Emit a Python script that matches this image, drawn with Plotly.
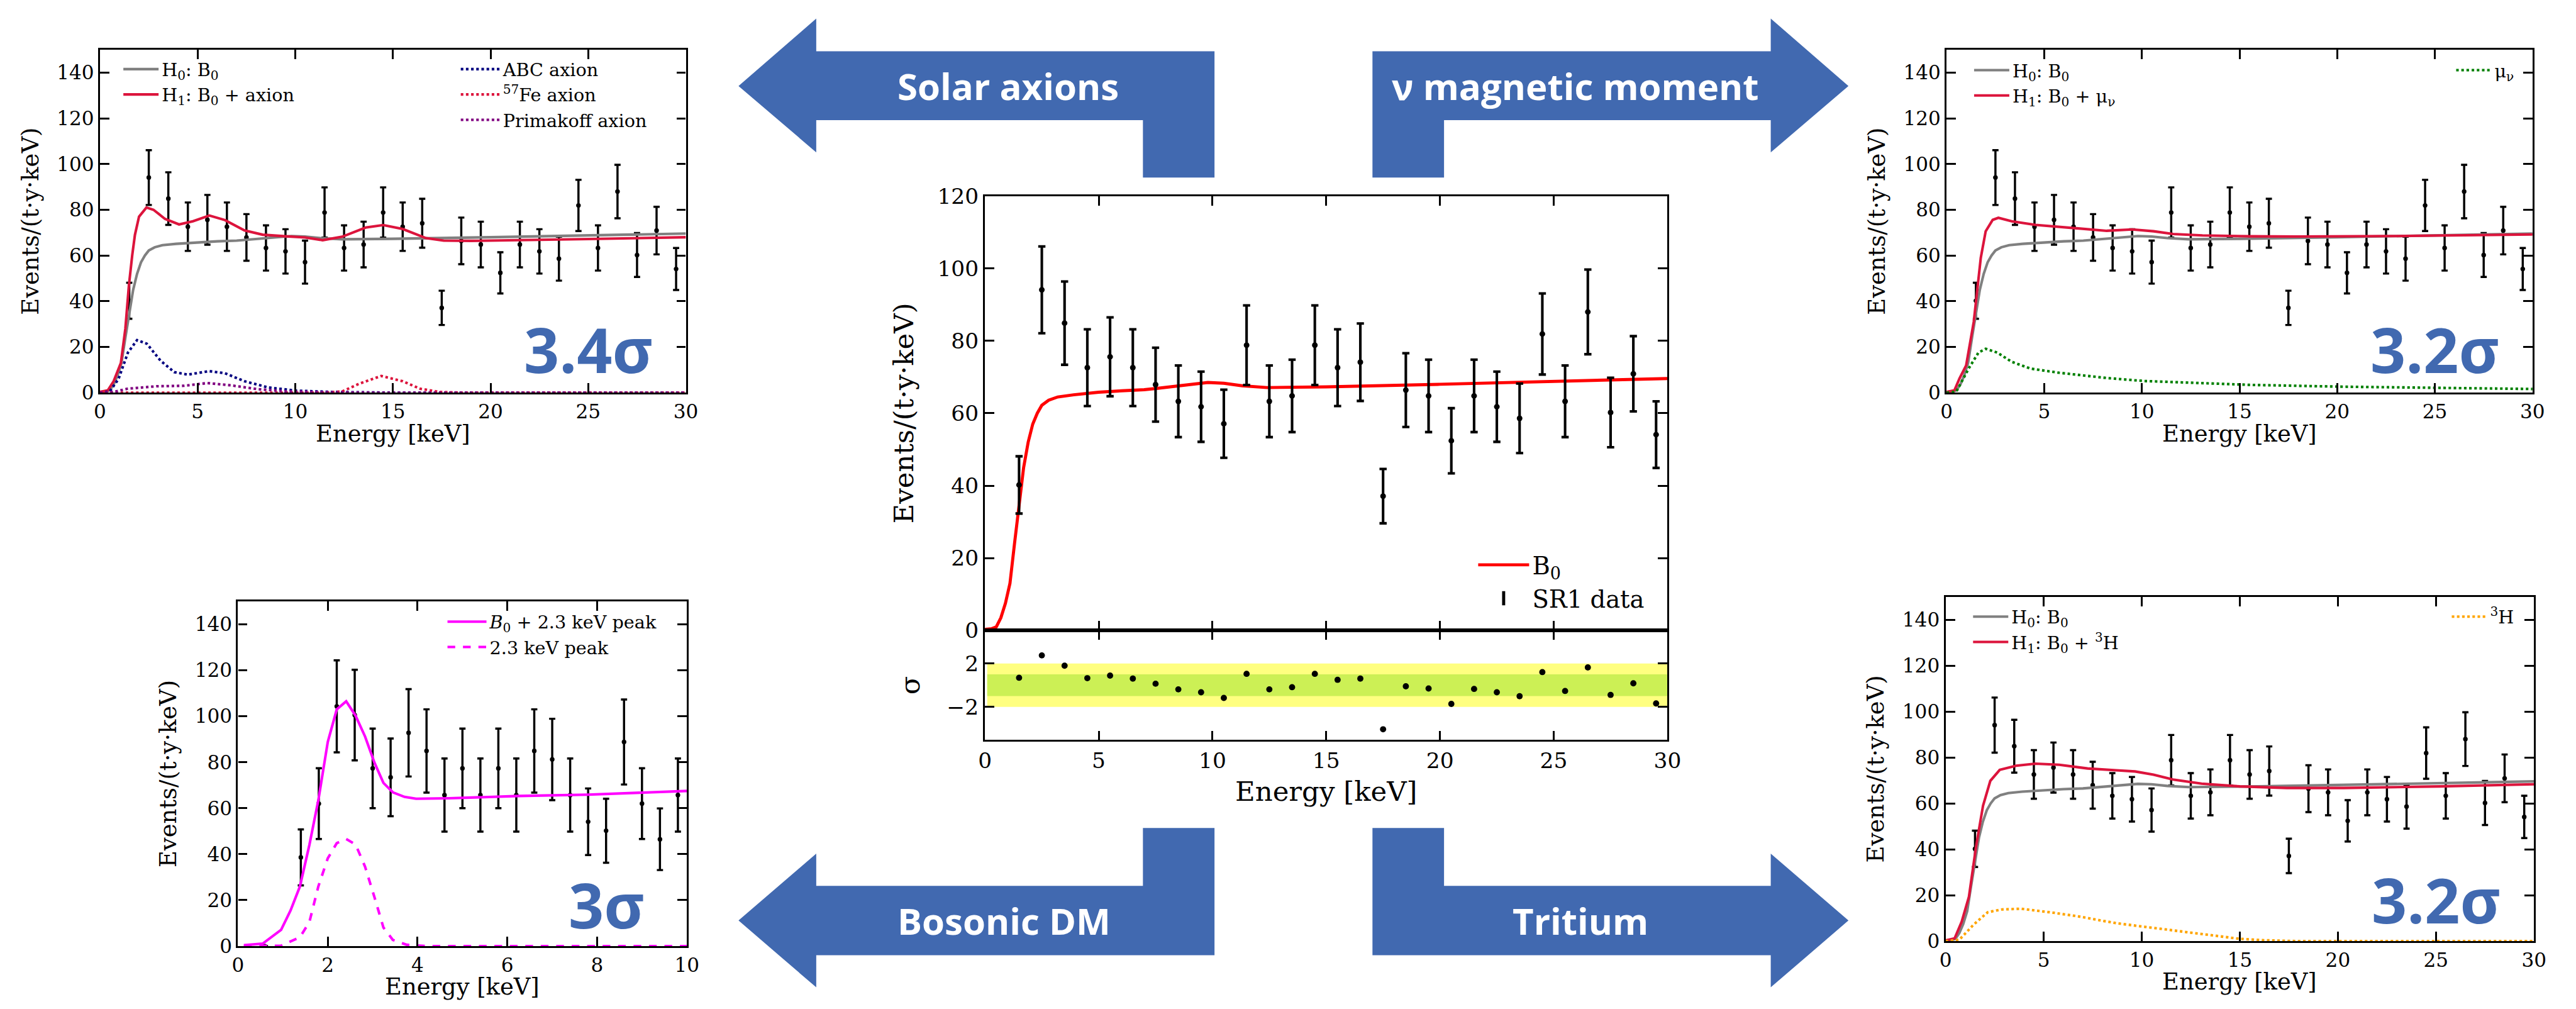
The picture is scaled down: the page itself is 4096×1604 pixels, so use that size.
import plotly.graph_objects as go

# ---------------- data ----------------
ENERGY = [1.5, 2.5, 3.5, 4.5, 5.5, 6.5, 7.5, 8.5, 9.5, 10.5, 11.5, 12.5, 13.5, 14.5, 15.5,
          16.5, 17.5, 18.5, 19.5, 20.5, 21.5, 22.5, 23.5, 24.5, 25.5, 26.5, 27.5, 28.5, 29.5]
RATE = [40.2, 94.1, 84.9, 72.6, 75.6, 72.6, 67.9, 63.3, 61.8, 57.1, 78.8, 63.3, 64.8, 78.8, 72.6,
        74.1, 37.1, 66.4, 64.8, 52.4, 64.8, 61.8, 58.6, 81.9, 63.3, 88.0, 60.2, 70.9, 54.1]
RATE_ERR = [7.9, 12.0, 11.5, 10.6, 10.9, 10.6, 10.2, 9.9, 9.7, 9.4, 11.0, 9.9, 10.0, 11.0, 10.6,
            10.7, 7.5, 10.2, 10.0, 9.0, 10.0, 9.7, 9.6, 11.2, 9.9, 11.7, 9.6, 10.4, 9.2]
RESID = [0.69, 2.75, 1.8, 0.65, 0.89, 0.61, 0.14, -0.38, -0.65, -1.17, 1.05, -0.38, -0.18, 1.05, 0.5,
         0.61, -4.06, -0.1, -0.3, -1.72, -0.34, -0.65, -1.01, 1.21, -0.53, 1.64, -0.89, 0.18, -1.68]

B0_X = [0, 0.3, 0.5, 0.7, 0.9, 1.1, 1.3, 1.5, 1.7, 1.9, 2.1, 2.3, 2.5, 2.8, 3.2, 3.9, 5.0, 6.0,
        7.0, 7.6, 8.5, 9.2, 9.8, 10.5, 11.3, 12.4, 15, 20, 25, 30]
B0_Y = [0.3, 0.5, 1.0, 3.5, 7.5, 13, 24, 35, 45, 52, 57, 60, 62.2, 63.6, 64.5, 65.1, 65.8, 66.2,
        66.5, 66.9, 67.6, 68.2, 68.5, 68.3, 67.6, 67.1, 67.3, 68.0, 68.8, 69.6]

AX_H1_X = [0, 0.4, 0.7, 1.07, 1.3, 1.48, 1.65, 1.79, 2.0, 2.38, 2.74, 3.33, 4.05, 4.76, 5.6, 6.4,
           7.4, 8.33, 9.5, 10.5, 11.4, 12.4, 13.6, 14.5, 15.5, 16.7, 17.6, 19, 25, 30]
AX_H1_Y = [0.3, 1.0, 5, 13, 28, 46.8, 60, 69, 77, 81, 80, 76, 73.6, 75, 77.5, 75.5,
           71, 69.1, 68.4, 67.9, 66.7, 68.2, 72.2, 73.3, 71.6, 67.6, 66.5, 66.4, 67.2, 68]
ABC_X = [0, 0.5, 0.95, 1.43, 1.9, 2.4, 3.1, 3.8, 4.5, 5.6, 6.4, 7.4, 8.6, 10, 11.9, 15, 30]
ABC_Y = [0, 0.5, 6, 17.5, 23, 21.4, 14, 9, 7.9, 9.4, 8.5, 5, 2.3, 0.9, 0.3, 0, 0]
FE57_X = [0, 11.5, 12.4, 13.3, 14.4, 15.5, 16.4, 17.4, 18.5, 30]
FE57_Y = [0, 0, 0.5, 4, 7.3, 5, 1.7, 0.3, 0, 0]
PRIM_X = [0, 0.7, 1.4, 2.9, 4.3, 5.5, 6.7, 8.1, 9.5, 11.9, 14, 30]
PRIM_Y = [0, 0.3, 1.7, 2.8, 3, 4.2, 3.2, 1.5, 0.6, 0.1, 0, 0]

MU_H1_X = [0, 0.4, 0.66, 1.0, 1.39, 1.75, 2.0, 2.36, 2.65, 3.33, 4.55, 6.25, 8.2, 9.5, 10.6,
           11.6, 13.1, 15.5, 17.9, 22.8, 30]
MU_H1_Y = [0.3, 1.0, 6.2, 11.9, 31, 59, 70.6, 75.6, 76.5, 75, 73.4, 72.1, 70.8, 71.4, 70.6,
           69.4, 68.8, 68.4, 68.3, 68.5, 69.2]
MU_X = [0, 0.5, 1.14, 1.63, 2.0, 2.6, 3.33, 4.3, 5.76, 8.2, 10.1, 13.1, 15.5, 20.3, 25.2, 30]
MU_Y = [0, 0.5, 10.7, 17.5, 19.2, 17.5, 13.5, 10.5, 8.7, 6.4, 5.1, 4.0, 3.4, 2.6, 2.0, 1.6]

TR_H1_X = [0, 0.46, 0.82, 1.19, 1.55, 1.91, 2.28, 2.76, 3.6, 4.58, 5.8, 7.24, 8.7, 9.66, 10.6,
           11.6, 13.05, 15, 17.4, 20.3, 25.2, 30]
TR_H1_Y = [0.3, 1.2, 8.4, 19.3, 41, 59, 69.8, 74.6, 76.4, 77.3, 76.8, 75.2, 74.4, 73.9, 72.5,
           70.4, 68.6, 67.4, 66.7, 66.7, 67.4, 68.3]
TRIT_X = [0, 0.7, 1.43, 2.15, 2.88, 3.85, 5.3, 6.75, 8.7, 10.6, 12.6, 14, 15, 16.2, 17.9, 30]
TRIT_Y = [0, 0.6, 7.2, 12.6, 13.8, 14.1, 12.6, 10.8, 7.8, 5.8, 3.6, 2.0, 1.0, 0.4, 0, 0]

BL_E = [0.6, 1.4, 1.8, 2.2, 2.6, 3.0, 3.4, 3.8, 4.2, 4.6, 5.0, 5.4, 5.8, 6.2, 6.6, 7.0, 7.4,
        7.8, 8.2, 8.6, 9.0, 9.4, 9.8]
BL_RATE = [0, 38.6, 62.0, 104.3, 100.5, 77.3, 73.4, 92.8, 84.9, 65.7, 77.3, 65.7, 77.3, 65.7,
           84.9, 81.2, 65.7, 54.1, 50.2, 88.8, 62.0, 46.5, 65.7]
BL_ERR = [0, 12.2, 15.4, 20.0, 19.7, 17.3, 16.9, 19.0, 18.1, 15.9, 17.3, 15.9, 17.3, 15.9,
          18.1, 17.7, 15.9, 14.5, 13.9, 18.5, 15.4, 13.4, 15.9]
PEAK_TOT_X = [0.13, 0.55, 0.96, 1.17, 1.38, 1.59, 1.79, 2.0, 2.2, 2.41, 2.62, 2.83, 3.04, 3.24,
              3.45, 3.71, 3.97, 4.7, 6.25, 7.8, 10]
PEAK_TOT_Y = [0.4, 1.1, 7.1, 15.5, 26, 44, 63.5, 88.8, 103, 106.5, 100.2, 91.2, 79.8, 71,
              66.9, 64.9, 64.1, 64.3, 65.3, 65.9, 67.5]
PEAK_X = [0.13, 0.96, 1.38, 1.59, 1.79, 2.0, 2.2, 2.41, 2.62, 2.83, 3.04, 3.24, 3.45, 3.76, 4.2, 10]
PEAK_Y = [0, 0.2, 3.9, 10.5, 26, 38.2, 44.8, 46.6, 44.2, 34.6, 21.3, 8.1, 2.7, 0.6, 0, 0]

SIGMA_BANDS = [2, 1]
SIGNIFICANCE = ["3.4σ", "3.2σ", "3σ", "3.2σ"]
ARROW_LABELS = ["Solar axions", "ν magnetic moment", "Bosonic DM", "Tritium"]

# ---------------- geometry helpers (reference pixels -> paper) ----------------
RW, RH = 4998.0, 1957.0
S = 4096.0 / RW


def PX(x):
    return x / RW


def PY(y):
    return 1 - y / RH


def dom_x(a, b):
    return [PX(a), PX(b)]


def dom_y(top, bot):
    return [PY(bot), PY(top)]


SERIF = "DejaVu Serif"
SANS = "Open Sans"
BLUE = "#4169B0"
CRIMSON = "#DC143C"
GRAY = "#808080"

fig = go.Figure()


def add_data(xa, ya, x, y, err, size, thick, width):
    fig.add_trace(go.Scatter(
        x=x, y=y, mode="markers", xaxis=xa, yaxis=ya,
        marker=dict(color="black", size=size),
        error_y=dict(type="data", array=err, visible=True, color="black",
                     thickness=thick, width=width),
        showlegend=False, hoverinfo="skip"))


def add_line(xa, ya, x, y, color, width, dash="solid", name=None, legend="legend"):
    fig.add_trace(go.Scatter(
        x=x, y=y, mode="lines", xaxis=xa, yaxis=ya,
        line=dict(color=color, width=width, dash=dash),
        name=name, legend=legend, legendgroup=(name or "") + legend,
        showlegend=name is not None))


LW = 5 * S
DW = 5 * S

# Top-left: solar axions
add_data("x", "y", ENERGY, RATE, RATE_ERR, 9 * S, 4.2 * S, 6 * S)
add_line("x", "y", B0_X, B0_Y, GRAY, LW, name="H<sub>0</sub>: B<sub>0</sub>", legend="legend")
add_line("x", "y", AX_H1_X, AX_H1_Y, CRIMSON, LW, name="H<sub>1</sub>: B<sub>0</sub> + axion", legend="legend")
add_line("x", "y", ABC_X, ABC_Y, "#000080", DW, "dot", name="ABC axion", legend="legend2")
add_line("x", "y", FE57_X, FE57_Y, CRIMSON, DW, "dot", name="<sup>57</sup>Fe axion", legend="legend2")
add_line("x", "y", PRIM_X, PRIM_Y, "#800080", DW, "dot", name="Primakoff axion", legend="legend2")

# Top-right: neutrino magnetic moment
add_data("x2", "y2", ENERGY, RATE, RATE_ERR, 9 * S, 4.2 * S, 6 * S)
add_line("x2", "y2", B0_X, B0_Y, GRAY, LW, name="H<sub>0</sub>: B<sub>0</sub>", legend="legend3")
add_line("x2", "y2", MU_H1_X, MU_H1_Y, CRIMSON, LW, name="H<sub>1</sub>: B<sub>0</sub> + μ<sub>ν</sub>", legend="legend3")
add_line("x2", "y2", MU_X, MU_Y, "#008000", DW, "dot", name="μ<sub>ν</sub>", legend="legend4")

# Bottom-left: bosonic DM
add_data("x3", "y3", BL_E, BL_RATE, BL_ERR, 9 * S, 4.2 * S, 6 * S)
add_line("x3", "y3", PEAK_TOT_X, PEAK_TOT_Y, "#FF00FF", LW, name="<i>B</i><sub>0</sub> + 2.3 keV peak", legend="legend5")
add_line("x3", "y3", PEAK_X, PEAK_Y, "#FF00FF", LW, "dash", name="2.3 keV peak", legend="legend5")

# Bottom-right: tritium
add_data("x4", "y4", ENERGY, RATE, RATE_ERR, 9 * S, 4.2 * S, 6 * S)
add_line("x4", "y4", B0_X, B0_Y, GRAY, LW, name="H<sub>0</sub>: B<sub>0</sub>", legend="legend6")
add_line("x4", "y4", TR_H1_X, TR_H1_Y, CRIMSON, LW, name="H<sub>1</sub>: B<sub>0</sub> + <sup>3</sup>H", legend="legend6")
add_line("x4", "y4", TRIT_X, TRIT_Y, "#FFA500", DW, "dot", name="<sup>3</sup>H", legend="legend7")

# Centre: data + B0
add_line("x5", "y5", B0_X, B0_Y, "#FF0000", 6 * S, name="B<sub>0</sub>", legend="legend8")
add_data("x5", "y5", ENERGY, RATE, RATE_ERR, 11 * S, 5 * S, 7 * S)
fig.add_trace(go.Scatter(x=[None], y=[None], mode="markers", xaxis="x5", yaxis="y5",
                         marker=dict(symbol="line-ns", size=50 * S, color="black",
                                     line=dict(color="black", width=6 * S)),
                         name="SR1 data", legend="legend8", legendgroup="sr1"))
fig.add_trace(go.Scatter(x=ENERGY, y=RESID, mode="markers", xaxis="x6", yaxis="y6",
                         marker=dict(color="black", size=12 * S), showlegend=False))


# --------- axes ---------
def ax_common(fs, ticklen=18 * S):
    return dict(showline=True, linecolor="black", linewidth=4 * S, mirror="ticks",
                ticks="inside", ticklen=ticklen, tickwidth=3.5 * S, tickcolor="black",
                showgrid=False, zeroline=False,
                tickfont=dict(family=SERIF, size=fs, color="black"))


SIDE_TICK = 38 * S
SIDE_TITLE = 45 * S
CEN_TICK = 42 * S
CEN_TITLE = 53 * S
YT = "Events/(t·y·keV)"
XT = "Energy [keV]"

annos = []
panels = {
    "": (182, 1328, 74, 756, 30, 5, 838),
    "2": (3794, 4940, 74, 756, 30, 5, 838),
    "3": (452, 1330, 1171, 1857, 10, 2, 1937),
    "4": (3792, 4943, 1162, 1847, 30, 5, 1928),
}
for k, (x0, x1, t, b, xmax, dt, ty) in panels.items():
    xa = ax_common(SIDE_TICK)
    xa.update(domain=dom_x(x0, x1), anchor="y" + k, range=[0, xmax],
              tickmode="linear", tick0=0, dtick=dt)
    ya = ax_common(SIDE_TICK)
    ya.update(domain=dom_y(t, b), anchor="x" + k, range=[0, 150],
              tickmode="linear", tick0=0, dtick=20,
              title=dict(text=YT, font=dict(family=SERIF, size=SIDE_TITLE, color="black"),
                         standoff=22 * S))
    fig.layout["xaxis" + k] = xa
    fig.layout["yaxis" + k] = ya
    annos.append(dict(text=XT, x=PX((x0 + x1) / 2), y=PY(ty), xref="paper", yref="paper",
                      showarrow=False, xanchor="center", yanchor="middle",
                      font=dict(family=SERIF, size=SIDE_TITLE, color="black")))

# centre main
xa5 = ax_common(CEN_TICK)
xa5.update(domain=dom_x(1913, 3248), anchor="y5", range=[0, 30], tickmode="linear",
           tick0=0, dtick=5, showticklabels=False, matches="x6")
ya5 = ax_common(CEN_TICK)
ya5.update(domain=dom_y(365, 1229), anchor="x5", range=[0, 120], tickmode="linear",
           tick0=0, dtick=20,
           title=dict(text=YT, font=dict(family=SERIF, size=CEN_TITLE, color="black"),
                      standoff=30 * S))
xa6 = ax_common(CEN_TICK)
xa6.update(domain=dom_x(1913, 3248), anchor="y6", range=[0, 30], tickmode="linear",
           tick0=0, dtick=5,
           title=dict(text=XT, font=dict(family=SERIF, size=CEN_TITLE, color="black"),
                      standoff=18 * S))
ya6 = ax_common(CEN_TICK)
ya6.update(domain=dom_y(1229, 1447), anchor="x6", range=[-5.05, 5.05],
           tickmode="array", tickvals=[-2, 2], ticktext=["−2", "2"],
           title=dict(text="σ", font=dict(family=SERIF, size=CEN_TITLE, color="black"),
                      standoff=36 * S))
fig.layout.xaxis5 = xa5
fig.layout.yaxis5 = ya5
fig.layout.xaxis6 = xa6
fig.layout.yaxis6 = ya6

# --------- residual bands ---------
shapes = []
band_cols = {2: "#FFFF80", 1: "#CCF055"}
for s_ in SIGMA_BANDS:
    shapes.append(dict(type="rect", xref="x6", yref="y6", x0=0.1, x1=30, y0=-s_, y1=s_,
                       fillcolor=band_cols[s_], line=dict(width=0), layer="below"))


# --------- arrows (reference pixel geometry) ---------
def poly(pts):
    return "M " + " L ".join(f"{PX(x):.5f},{PY(y):.5f}" for x, y in pts) + " Z"


def mirror(pts, cx=2516.5):
    return [(2 * cx - x, y) for x, y in pts]


top_left = [(1431, 146), (1583, 12), (1583, 77), (2362, 77), (2362, 328), (2222, 328),
            (2222, 214), (1583, 214), (1583, 278)]
bot_left = [(1431, 1806), (1583, 1673), (1583, 1737), (2222, 1737), (2222, 1622),
            (2362, 1622), (2362, 1875), (1583, 1875), (1583, 1939)]
for p in (top_left, mirror(top_left), bot_left, mirror(bot_left)):
    shapes.append(dict(type="path", xref="paper", yref="paper", path=poly(p),
                       fillcolor=BLUE, line=dict(width=0)))
fig.layout.shapes = shapes

arrow_pos = [(1958, 146), (3068, 146), (1950, 1806), (3078, 1806)]
for txt, (x, y) in zip(ARROW_LABELS, arrow_pos):
    annos.append(dict(text=f"<b>{txt}</b>", x=PX(x), y=PY(y), xref="paper", yref="paper",
                      showarrow=False, xanchor="center", yanchor="middle",
                      font=dict(family=SANS, size=71 * S, color="white")))
sig_pos = [("x", "y", 25.0, 19), ("x2", "y2", 25.0, 19), ("x3", "y3", 8.2, 18), ("x4", "y4", 25.0, 18)]
for txt, (xa, ya, x, y) in zip(SIGNIFICANCE, sig_pos):
    annos.append(dict(text=f"<b>{txt}</b>", x=x, y=y, xref=xa, yref=ya, showarrow=False,
                      xanchor="center", yanchor="middle",
                      font=dict(family=SANS, size=120 * S, color=BLUE)))
fig.layout.annotations = annos


# --------- legends ---------
def leg(sample_cx, top, fs, iw, gap, xanchor="left", xr=None):
    if xanchor == "left":
        x = (sample_cx * S - 20) / 4096.0
    else:
        x = PX(xr)
    return dict(x=x, y=PY(top), xref="paper", yref="paper", xanchor=xanchor, yanchor="top",
                bgcolor="rgba(0,0,0,0)", borderwidth=0, tracegroupgap=gap * S,
                font=dict(family=SERIF, size=fs, color="black"), traceorder="normal",
                itemwidth=iw)


LF = 35 * S
G = 16
fig.update_layout(
    legend=leg(246, 125 - 44, LF, 56, G),
    legend2=leg(906, 125 - 44, LF, 62, G),
    legend3=leg(3866, 127 - 44, LF, 56, G),
    legend4=leg(0, 127 - 44, LF, 56, G, xanchor="right", xr=4910),
    legend5=leg(880, 1224 - 44, LF, 62, G),
    legend6=leg(3864, 1214 - 44, LF, 56, G),
    legend7=leg(0, 1214 - 44, LF, 56, G, xanchor="right", xr=4910),
    legend8=leg(2896, 1093 - 34, 47 * S, 81, 7),
)

fig.update_layout(width=4096, height=1604, margin=dict(l=0, r=0, t=0, b=0),
                  paper_bgcolor="white", plot_bgcolor="white",
                  font=dict(family=SERIF, color="black"))

fig.write_html("out.html")
